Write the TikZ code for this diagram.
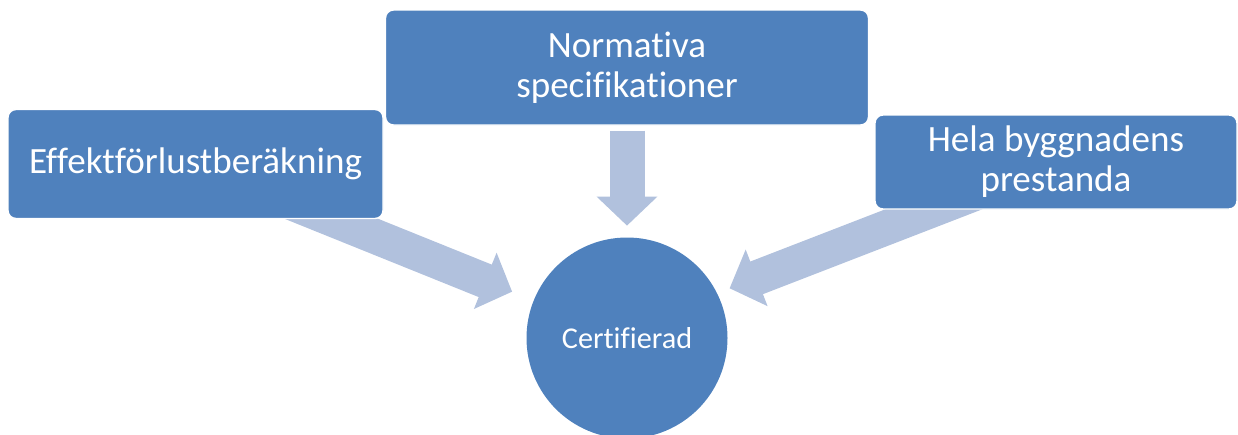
\documentclass[tikz,border=0pt]{standalone}
\usepackage{fontspec}
\setmainfont{Carlito}[Ligatures=NoCommon]
\usepackage{tikz}
\usetikzlibrary{arrows.meta, positioning, backgrounds}
\definecolor{boxblue}{HTML}{4F81BD}
\definecolor{flowblue}{HTML}{B1C1DD}

\begin{document}
\begin{tikzpicture}[
    box/.style={draw=white, line width=0.8pt, rounded corners=0.16cm, fill=boxblue, text=white, align=center, font=\fontsize{21.1}{22.8}\selectfont},
    roundbox/.style={circle, fill=boxblue, text=white, minimum size=4.02cm, inner sep=0pt, font=\fontsize{17.2}{20}\selectfont},
    flow/.style={draw=flowblue, line width=0.7cm, -{Triangle[length=0.58cm, width=1.18cm]}}
]
    \useasboundingbox (0,0) rectangle (24.76,-8.68);

    \node[box, minimum width=7.5cm, minimum height=2.18cm] (effekt) at (3.91,-3.28) {Effektförlustberäkning};
    \node[box, minimum width=9.66cm, minimum height=2.3cm] (norm) at (12.54,-1.35) {Normativa\\specifikationer};
    \node[box, minimum width=7.24cm, minimum height=1.88cm] (hela) at (21.12,-3.24) {Hela byggnadens\\prestanda};
    \node[roundbox] (cert) at (12.54,-6.76) {Certifierad};

    \begin{scope}[on background layer]
        \draw[flow, shorten >=0.46cm] (effekt.center) -- (cert);
        \draw[flow, shorten <=0.1cm, shorten >=0.23cm] (norm) -- (cert);
        \draw[flow, shorten >=2.2cm] (hela.center) -- ([yshift=0.2cm]cert.center);
    \end{scope}
\end{tikzpicture}
\end{document}
